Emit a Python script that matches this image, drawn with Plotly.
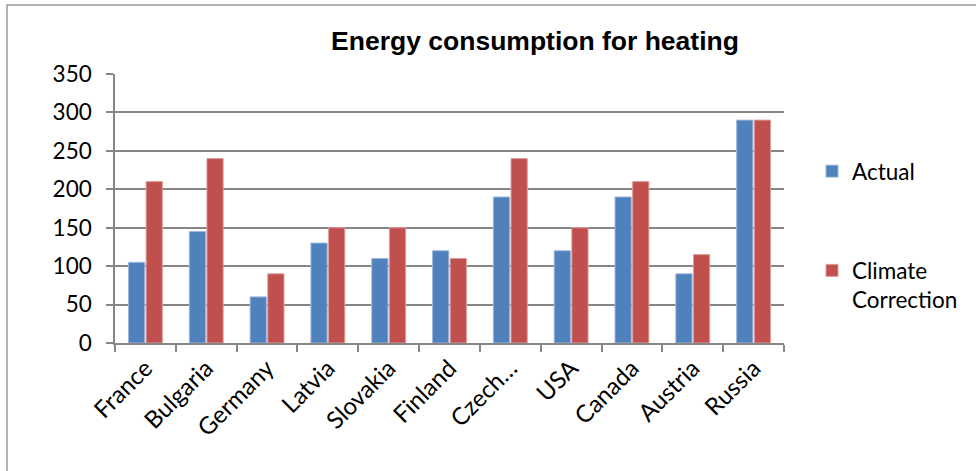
import plotly.graph_objects as go

categories = ["France", "Bulgaria", "Germany", "Latvia", "Slovakia", "Finland",
              "Czech…", "USA", "Canada", "Austria", "Russia"]
actual = [105, 145, 60, 130, 110, 120, 190, 120, 190, 90, 290]
climate = [210, 240, 90, 150, 150, 110, 240, 150, 210, 115, 290]
y_ticks = [0, 50, 100, 150, 200, 250, 300, 350]

W, H = 976, 471
L, R, T, B = 115, 192, 74, 128
pw, ph = W - L - R, H - T - B

font_fam = "Lato, Carlito, Calibri, sans-serif"

fig = go.Figure()
fig.add_trace(go.Bar(x=categories, y=actual, name="Actual",
                     marker=dict(color="#4F81BD", line=dict(color="#9DB7DD", width=1)),
                     legendgroup="a"))
fig.add_trace(go.Bar(x=categories, y=climate, name="Climate<br>Correction",
                     marker=dict(color="#C0504D", line=dict(color="#DE9C9A", width=1)),
                     legendgroup="b"))

def px_x(px):
    return (px - L) / pw

def px_y(py):
    return (H - B - py) / ph

fig.update_layout(
    width=W, height=H,
    margin=dict(l=L, r=R, t=T, b=B, autoexpand=False),
    paper_bgcolor="white", plot_bgcolor="white",
    barmode="group", bargap=0.42, bargroupgap=0.08,
    font=dict(family=font_fam, size=22, color="black"),
    title=dict(text="<b>Energy consumption for heating</b>",
               x=535 / W, xanchor="center", y=1 - 41 / H, yanchor="middle",
               xref="container", yref="container",
               font=dict(family="Liberation Sans, Arial, sans-serif", size=26.5, color="black")),
    showlegend=True,
    legend=dict(x=px_x(812), xanchor="left", y=px_y(150), yanchor="top",
                tracegroupgap=67, valign="top", itemwidth=30,
                font=dict(family=font_fam, size=22.5, color="black"),
                bgcolor="rgba(0,0,0,0)"),
    xaxis=dict(type="category", tickangle=-45, tickson="boundaries", automargin=False,
               ticks="outside", ticklen=7, tickcolor="#868686", tickwidth=1.5,
               showline=True, linecolor="#868686", linewidth=1.5,
               showgrid=False, tickfont=dict(family=font_fam, size=24)),
    yaxis=dict(range=[0, 350], tickvals=y_ticks, ticks="outside", ticklen=7,
               automargin=False, ticklabelstandoff=10,
               tickcolor="#868686", tickwidth=1.5,
               showline=True, linecolor="#868686", linewidth=1.5,
               showgrid=True, gridcolor="#868686", gridwidth=1.5,
               zeroline=False, tickfont=dict(family=font_fam, size=22.5)),
    shapes=[dict(type="rect", xref="paper", yref="paper",
                 x0=px_x(7), x1=px_x(990), y0=px_y(490), y1=px_y(5),
                 line=dict(color="#9A9A9A", width=1.5), fillcolor="rgba(0,0,0,0)",
                 layer="below")],
)

fig.write_html("out.html", config={"displayModeBar": False},
               post_script="document.body.style.margin='0';document.body.style.overflow='hidden';")
